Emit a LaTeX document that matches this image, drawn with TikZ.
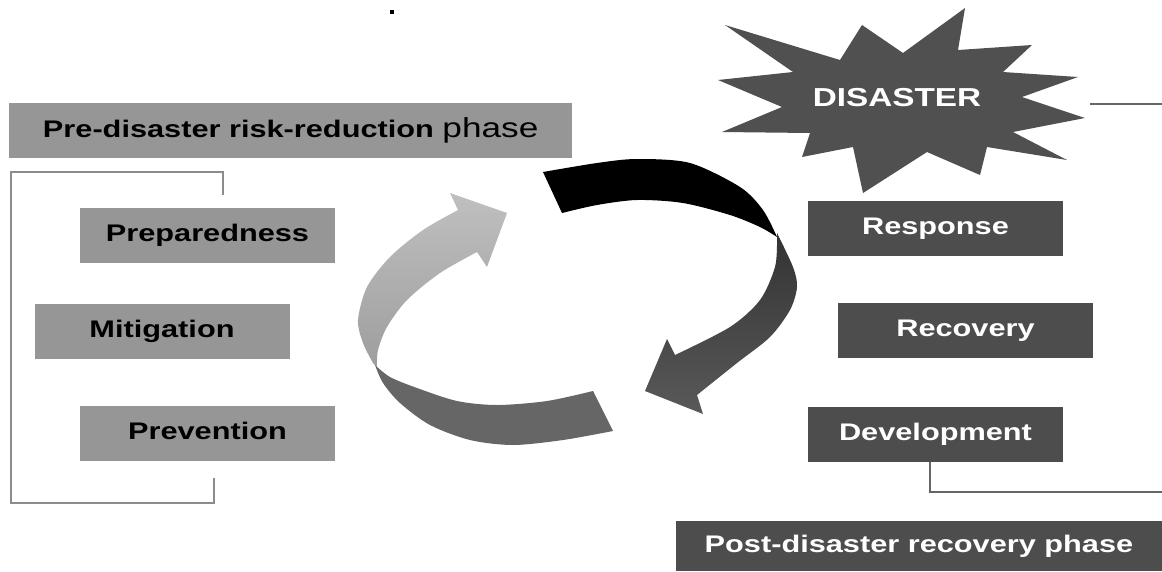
\documentclass[tikz,border=0pt]{standalone}
\usepackage{fontspec}
\setmainfont{Liberation Sans}[FakeStretch=1.28]
\definecolor{boxgray}{HTML}{969696}
\definecolor{boxdark}{HTML}{4D4D4D}
\definecolor{stargray}{HTML}{505050}
\tikzstyle{pre} = [rectangle, minimum width=255pt, minimum height=55pt, text centered, text height=17pt, text depth=4pt, fill=boxgray, font=\fontsize{24}{28}\selectfont\bfseries]
\tikzstyle{post} = [pre, fill=boxdark, text=white]
\tikzstyle{bracket} = [draw=black!45, line width=1.6pt]
\tikzstyle{line} = [draw=black!60, line width=1.6pt]

\begin{document}
\begin{tikzpicture}[x=1pt, y=-1pt, node distance=102pt]
\useasboundingbox (0,0) rectangle (1162,571);
\fill[black] (390,10) rectangle (394,14);

% phase titles
\node (pretitle) [pre, minimum width=563pt] at (290.7,130.8) {Pre-disaster risk-reduction {\fontsize{27.5}{30}\selectfont\mdseries phase}};
\node (posttitle) [post, minimum width=486pt, minimum height=50pt] at (919,546) {Post-disaster recovery phase};

% left column
\node (prep) [pre] at (207.5,235) {Preparedness};
\node (mitig) [pre, below of=prep, xshift=-45.5pt, yshift=6pt] {Mitigation};
\node (prev) [pre, below of=mitig, xshift=45.5pt] {Prevention};
\draw [bracket] (222.7,195) -- (222.7,171.7) -- (11,171.7) -- (11,503) -- (214,503) -- (214,478);

% right column
\node (resp) [post] at (935.5,228.3) {Response};
\node (recov) [post, below of=resp, xshift=30pt] {Recovery};
\node (devel) [post, below of=recov, xshift=-30pt, yshift=-2pt] {Development};
\coordinate (pend) at (1162,491.7);
\draw [line] ([xshift=-5.5pt]devel.south) |- (pend);

% disaster star
\fill[stargray] (725,25) -- (840,60) -- (862,25) -- (903,53) -- (965,8) -- (958,50) -- (1032,45) -- (1003,72) -- (1078,77) -- (1022,97) -- (1085,118) -- (1013,132) -- (1067,160) -- (987,147) -- (980,175) -- (927,152) -- (863,193) -- (853,147) -- (802,157) -- (810,133) -- (722,132) -- (782,107) -- (718,80) -- (793,72) -- cycle;
\node (disaster) [text=white, font=\fontsize{26}{30}\selectfont\bfseries] at (897,98) {DISASTER};
\coordinate (dtip) at (1090,104);
\coordinate (dend) at (1162,104);
\draw [line] (dtip) -- (dend);

% cycle arrows
\shade[top color=black!25, bottom color=black!38] (373,363) -- plot[smooth] coordinates {(373,363) (363,343) (358,320) (367,287) (390,257) (423,230) (458,210)} -- (450,193) -- (507,213) -- (487,267) -- plot[smooth] coordinates {(477,252) (440,273) (407,300) (387,327) (378,350) (377,367)} -- cycle;
\fill[black!60] (375,365) -- plot[smooth] coordinates {(375,365) (383,383) (400,403) (430,425) (470,440) (513,445) (563,440) (613,431)} -- plot[smooth] coordinates {(593,391) (547,401) (497,405) (457,401) (417,388) (390,377) (375,365)} -- cycle;
\fill[black] (543,172) -- plot[smooth] coordinates {(543,172) (597,163) (637,159) (690,163) (740,187) (763,210) (777,237)} -- plot[smooth] coordinates {(777,237) (760,227) (730,215) (683,203) (637,200) (597,205) (562,213)} -- cycle;
\shade[top color=black!80, bottom color=black!65] (777,233) -- plot[smooth] coordinates {(777,233) (793,267) (797,287) (790,310) (770,337) (737,363) (697,395)} -- (703,414) -- (645,391) -- (667,339) -- plot[smooth] coordinates {(675,355) (730,327) (760,300) (775,267) (777,240)} -- cycle;

\end{tikzpicture}
\end{document}
